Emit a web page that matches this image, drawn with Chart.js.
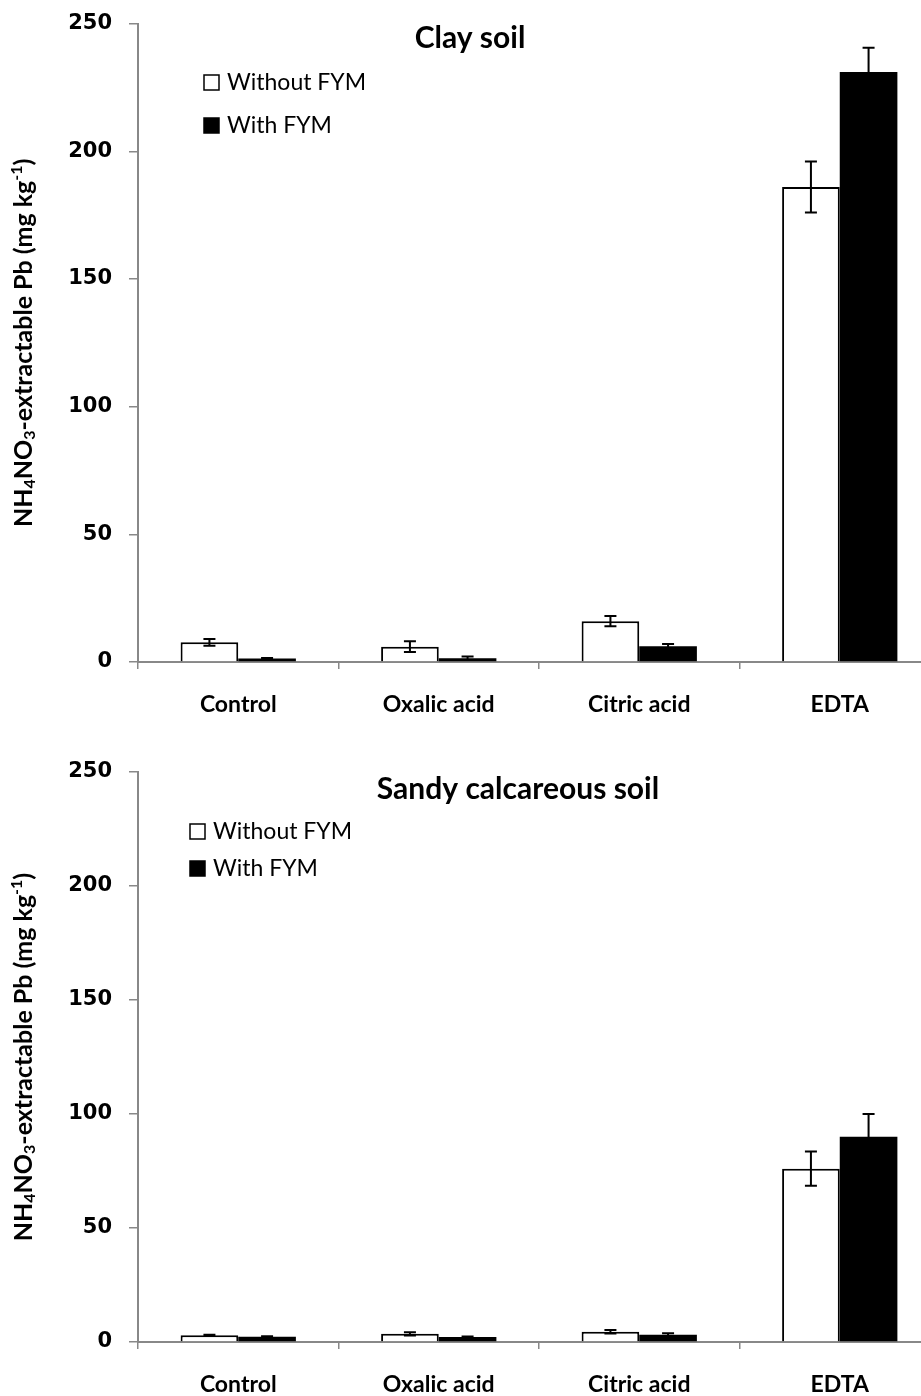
<!DOCTYPE html>
<html>
<head>
<meta charset="utf-8">
<script src="https://cdn.jsdelivr.net/npm/chart.js@4.4.1/dist/chart.umd.min.js"></script>
<style>
  html, body { margin: 0; padding: 0; background: #fff; width: 921px; height: 1396px; overflow: hidden; }
  .box { position: absolute; left: 0; width: 940px; }
  #top { top: -6px; height: 746px; }
  #bottom { top: 740px; height: 656px; }
</style>
</head>
<body>
<div class="box" id="top"><canvas id="clayChart"></canvas></div>
<div class="box" id="bottom"><canvas id="sandyChart"></canvas></div>
<script>
// treatments on the x axis
const categories = ["Control", "Oxalic acid", "Citric acid", "EDTA"];
const seriesNames = ["Without FYM", "With FYM"];
const yTicks = [0, 50, 100, 150, 200, 250];

// Clay soil (mg/kg)
const clayWithout = [7.7, 6.0, 16.0, 186];
const clayWithoutErr = [1.3, 2.1, 2.0, 10];
const clayWith = [1.4, 1.5, 6.2, 231];
const clayWithErr = [0.2, 0.7, 0.8, 9.5];

// Sandy calcareous soil (mg/kg)
const sandyWithout = [3.0, 3.6, 4.5, 76];
const sandyWithoutErr = [0.2, 0.7, 0.8, 7.5];
const sandyWith = [2.3, 2.2, 3.2, 90];
const sandyWithErr = [0.2, 0.2, 0.6, 10];

const axisGrey = "#888888";

// error bars drawn over the bars
const errorBars = {
  id: "errorBars",
  afterDatasetsDraw(chart) {
    const ctx = chart.ctx;
    const y = chart.scales.y;
    ctx.save();
    ctx.strokeStyle = "#000";
    ctx.lineWidth = 2;
    chart.data.datasets.forEach((ds, i) => {
      chart.getDatasetMeta(i).data.forEach((bar, j) => {
        const v = ds.data[j], e = ds.errors[j];
        const top = y.getPixelForValue(v + e);
        const bot = y.getPixelForValue(v - e);
        ctx.beginPath();
        ctx.moveTo(bar.x, top); ctx.lineTo(bar.x, bot);
        ctx.moveTo(bar.x - 6, top); ctx.lineTo(bar.x + 6, top);
        ctx.moveTo(bar.x - 6, bot); ctx.lineTo(bar.x + 6, bot);
        ctx.stroke();
      });
    });
    ctx.restore();
  }
};

// title, legend and y axis title with sub/superscripts
const decorations = {
  id: "decorations",
  afterDraw(chart, args, opts) {
    const ctx = chart.ctx;
    ctx.save();
    ctx.fillStyle = "#000";
    ctx.textBaseline = "middle";
    ctx.font = "bold 30px Lato";
    ctx.textAlign = "center";
    ctx.fillText(opts.title, opts.titleX, opts.titleY);

    ctx.textAlign = "left";
    ctx.font = "23px Lato";
    chart.data.datasets.forEach((ds, i) => {
      const ly = opts.legendY[i];
      ctx.fillStyle = ds.backgroundColor;
      ctx.fillRect(opts.legendX, ly - 7, 15, 15);
      ctx.strokeStyle = "#000";
      ctx.lineWidth = 1.5;
      ctx.strokeRect(opts.legendX, ly - 7, 15, 15);
      ctx.fillStyle = "#000";
      ctx.fillText(ds.label, opts.legendX + 23, ly + 1);
    });

    // vertical axis title
    const area = chart.chartArea;
    const parts = [
      ["NH", 0], ["4", 1], ["NO", 0], ["3", 1], ["-extractable Pb (mg kg", 0], ["-1", -1], [")", 0]
    ];
    const big = "bold 25px Lato", small = "bold 16px Lato";
    let total = 0;
    parts.forEach(([t, k]) => { ctx.font = k ? small : big; total += ctx.measureText(t).width; });
    ctx.translate(opts.axisTitleX, (area.top + area.bottom) / 2);
    ctx.rotate(-Math.PI / 2);
    let x = -total / 2;
    parts.forEach(([t, k]) => {
      ctx.font = k ? small : big;
      ctx.fillText(t, x, k === 1 ? 6 : k === -1 ? -7 : 0);
      x += ctx.measureText(t).width;
    });
    ctx.restore();
  }
};

function makeChart(id, without, withoutErr, withF, withErr, padTop, xHeight, deco) {
  return new Chart(document.getElementById(id), {
    type: "bar",
    data: {
      labels: categories,
      datasets: [
        { label: seriesNames[0], data: without, errors: withoutErr, backgroundColor: "#ffffff",
          borderColor: "#000", borderWidth: 2 },
        { label: seriesNames[1], data: withF, errors: withErr, backgroundColor: "#000000",
          borderColor: "#000", borderWidth: 0 }
      ]
    },
    options: {
      responsive: true,
      maintainAspectRatio: false,
      animation: false,
      events: [],
      layout: { padding: { top: padTop, left: 0, right: 0, bottom: 0 } },
      datasets: { bar: { categoryPercentage: 0.575, barPercentage: 1.0 } },
      plugins: { legend: { display: false }, tooltip: { enabled: false }, decorations: deco },
      scales: {
        x: {
          offset: true,
          grid: { offset: true, drawOnChartArea: false, drawTicks: true, tickLength: 7, color: axisGrey, lineWidth: 1.5 },
          border: { color: axisGrey, width: 2 },
          ticks: { color: "#000", font: { family: "Lato", weight: "bold", size: 23 }, padding: 22 },
          afterFit: s => { s.height = xHeight; }
        },
        y: {
          min: 0, max: 250,
          afterBuildTicks: s => { s.ticks = yTicks.map(v => ({ value: v })); },
          grid: { drawOnChartArea: false, drawTicks: true, tickLength: 9, color: axisGrey, lineWidth: 1.5 },
          border: { color: axisGrey, width: 2 },
          ticks: { color: "#000", font: { family: "DejaVu Sans", weight: "bold", size: 21 }, padding: 17 },
          afterFit: s => { s.width = 138; }
        }
      }
    },
    plugins: [errorBars, decorations]
  });
}

makeChart("clayChart", clayWithout, clayWithoutErr, clayWith, clayWithErr, 18, 78,
  { title: "Clay soil", titleX: 470, titleY: 44, legendX: 204, legendY: [88, 131], axisTitleX: 24 });
makeChart("sandyChart", sandyWithout, sandyWithoutErr, sandyWith, sandyWithErr, 32, 54,
  { title: "Sandy calcareous soil", titleX: 518, titleY: 49, legendX: 190, legendY: [91, 128], axisTitleX: 24 });
</script>
</body>
</html>
